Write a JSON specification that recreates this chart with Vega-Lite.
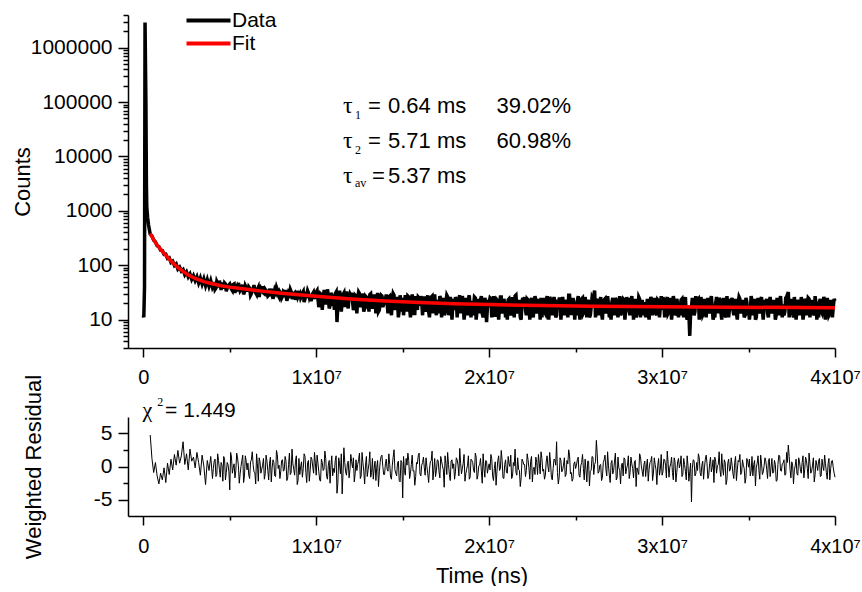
{
"$schema": "https://vega.github.io/schema/vega-lite/v6.json",
"padding": {"left": 11, "top": 10, "right": 0, "bottom": 0},
"background": "white",
"config": {
  "view": {"stroke": null},
  "font": "Liberation Sans",
  "axis": {"domainColor": "black", "domainWidth": 1.5, "tickColor": "black", "tickWidth": 1.5, "labelColor": "black", "labelFont": "Liberation Sans", "labelFontSize": 20, "titleFont": "Liberation Sans", "titleFontSize": 22, "titleFontWeight": "normal", "titleColor": "black", "grid": false, "labelOverlap": false, "labelFlush": false}
},
"datasets": {
"decay": [
{"t":0,"c":12},{"t":3e4,"c":11},{"t":7e4,"c":40},{"t":1e5,"c":2900000},{"t":1.5e5,"c":100000},{"t":1.8e5,"c":3000},{"t":2e5,"c":1200},{"t":2.5e5,"c":750},{"t":3e5,"c":560},{"t":3.5e5,"c":450},
{"t":4e5,"c":372},{"t":5e5,"c":345},{"t":6e5,"c":288},{"t":7e5,"c":270},{"t":8e5,"c":228},{"t":9e5,"c":220},{"t":1.0e6,"c":189},{"t":1.1e6,"c":186},{"t":1.2e6,"c":158},{"t":1.3e6,"c":160},
{"t":1.4e6,"c":133},{"t":1.5e6,"c":137},{"t":1.6e6,"c":112},{"t":1.7e6,"c":118},{"t":1.8e6,"c":99},{"t":1.9e6,"c":106},{"t":2.0e6,"c":85},{"t":2.1e6,"c":92},{"t":2.2e6,"c":78},{"t":2.3e6,"c":83},
{"t":2.4e6,"c":67},{"t":2.5e6,"c":75},{"t":2.6e6,"c":61},{"t":2.7e6,"c":69},{"t":2.8e6,"c":55},{"t":2.9e6,"c":64},{"t":3.0e6,"c":52},{"t":3.1e6,"c":61},{"t":3.2e6,"c":47},{"t":3.3e6,"c":58},
{"t":3.4e6,"c":45},{"t":3.5e6,"c":56},{"t":3.6e6,"c":42},{"t":3.7e6,"c":54},{"t":3.8e6,"c":41},{"t":3.9e6,"c":52},{"t":4.0e6,"c":39},
{"t":4.1e6,"c":49},{"t":4.2e6,"c":38},{"t":4.3e6,"c":46},{"t":4.4e6,"c":52},{"t":4.5e6,"c":35},{"t":4.6e6,"c":43},{"t":4.7e6,"c":47},{"t":4.8e6,"c":33},{"t":4.9e6,"c":41},{"t":5.0e6,"c":45},
{"t":5.1e6,"c":36},{"t":5.2e6,"c":44},{"t":5.3e6,"c":31},{"t":5.4e6,"c":40},{"t":5.5e6,"c":47},{"t":5.6e6,"c":34},{"t":5.7e6,"c":38},{"t":5.8e6,"c":29},{"t":5.9e6,"c":42},{"t":6.0e6,"c":37},
{"t":6.1e6,"c":40},{"t":6.2e6,"c":28},{"t":6.3e6,"c":35},{"t":6.4e6,"c":43},{"t":6.5e6,"c":31},{"t":6.6e6,"c":36},{"t":6.7e6,"c":26},{"t":6.8e6,"c":38},{"t":6.9e6,"c":41},{"t":7.0e6,"c":30},
{"t":7.1e6,"c":34},{"t":7.2e6,"c":27},{"t":7.3e6,"c":37},{"t":7.4e6,"c":30},{"t":7.5e6,"c":24},{"t":7.6e6,"c":35},{"t":7.7e6,"c":39},{"t":7.8e6,"c":28},{"t":7.9e6,"c":32},{"t":8.0e6,"c":25},
{"t":8.1e6,"c":33},{"t":8.2e6,"c":29},{"t":8.3e6,"c":22},{"t":8.4e6,"c":31},{"t":8.5e6,"c":36},{"t":8.6e6,"c":27},{"t":8.7e6,"c":30},{"t":8.8e6,"c":23},{"t":8.9e6,"c":34},{"t":9.0e6,"c":28},
{"t":9.1e6,"c":25},{"t":9.2e6,"c":31},{"t":9.3e6,"c":21},{"t":9.4e6,"c":29},{"t":9.5e6,"c":34},{"t":9.6e6,"c":26},{"t":9.7e6,"c":22},{"t":9.8e6,"c":30},{"t":9.9e6,"c":27},{"t":10.0e6,"c":32},
{"t":10.1e6,"c":24},{"t":10.2e6,"c":19},{"t":10.3e6,"c":29},{"t":10.4e6,"c":26},{"t":10.5e6,"c":33},{"t":10.6e6,"c":22},{"t":10.7e6,"c":27},{"t":10.8e6,"c":18},{"t":10.9e6,"c":28},{"t":11.0e6,"c":25},
{"t":11.1e6,"c":30},{"t":11.2e6,"c":9},{"t":11.3e6,"c":23},{"t":11.4e6,"c":27},{"t":11.5e6,"c":21},{"t":11.6e6,"c":31},{"t":11.7e6,"c":24},{"t":11.8e6,"c":19},{"t":11.9e6,"c":26},{"t":12.0e6,"c":28},
{"t":12.1e6,"c":22},{"t":12.2e6,"c":17},{"t":12.3e6,"c":27},{"t":12.4e6,"c":25},{"t":12.5e6,"c":30},{"t":12.6e6,"c":20},{"t":12.7e6,"c":24},{"t":12.8e6,"c":16},{"t":12.9e6,"c":26},{"t":13.0e6,"c":23},
{"t":13.1e6,"c":29},{"t":13.2e6,"c":21},{"t":13.3e6,"c":18},{"t":13.4e6,"c":25},{"t":13.5e6,"c":22},{"t":13.6e6,"c":14},{"t":13.7e6,"c":24},{"t":13.8e6,"c":27},{"t":13.9e6,"c":19},{"t":14.0e6,"c":23},
{"t":14.1e6,"c":20},{"t":14.2e6,"c":26},{"t":14.3e6,"c":17},{"t":14.4e6,"c":22},{"t":14.5e6,"c":28},{"t":14.6e6,"c":18},{"t":14.7e6,"c":23},{"t":14.8e6,"c":15},{"t":14.9e6,"c":21},{"t":15.0e6,"c":25},
{"t":15.1e6,"c":19},{"t":15.2e6,"c":24},{"t":15.3e6,"c":27},{"t":15.4e6,"c":16},{"t":15.5e6,"c":22},{"t":15.6e6,"c":20},{"t":15.7e6,"c":13},{"t":15.8e6,"c":23},{"t":15.9e6,"c":26},{"t":16.0e6,"c":18},
{"t":16.1e6,"c":21},{"t":16.2e6,"c":25},{"t":16.3e6,"c":17},{"t":16.4e6,"c":20},{"t":16.5e6,"c":14},{"t":16.6e6,"c":22},{"t":16.7e6,"c":27},{"t":16.8e6,"c":19},{"t":16.9e6,"c":16},{"t":17.0e6,"c":23},
{"t":17.1e6,"c":18},{"t":17.2e6,"c":24},{"t":17.3e6,"c":20},{"t":17.4e6,"c":12},{"t":17.5e6,"c":21},{"t":17.6e6,"c":26},{"t":17.7e6,"c":17},{"t":17.8e6,"c":22},{"t":17.9e6,"c":19},{"t":18.0e6,"c":15},
{"t":18.1e6,"c":23},{"t":18.2e6,"c":20},{"t":18.3e6,"c":28},{"t":18.4e6,"c":17},{"t":18.5e6,"c":21},{"t":18.6e6,"c":14},{"t":18.7e6,"c":19},{"t":18.8e6,"c":24},{"t":18.9e6,"c":16},{"t":19.0e6,"c":22},
{"t":19.1e6,"c":18},{"t":19.2e6,"c":25},{"t":19.3e6,"c":15},{"t":19.4e6,"c":20},{"t":19.5e6,"c":23},{"t":19.6e6,"c":13},{"t":19.7e6,"c":19},{"t":19.8e6,"c":22},{"t":19.9e6,"c":17},{"t":20.0e6,"c":21},
{"t":20.1e6,"c":24},{"t":20.2e6,"c":16},{"t":20.3e6,"c":19},{"t":20.4e6,"c":12},{"t":20.5e6,"c":22},{"t":20.6e6,"c":18},{"t":20.7e6,"c":26},{"t":20.8e6,"c":15},{"t":20.9e6,"c":20},{"t":21.0e6,"c":17},
{"t":21.1e6,"c":23},{"t":21.2e6,"c":19},{"t":21.3e6,"c":14},{"t":21.4e6,"c":21},{"t":21.5e6,"c":27},{"t":21.6e6,"c":16},{"t":21.7e6,"c":18},{"t":21.8e6,"c":11},{"t":21.9e6,"c":22},{"t":22.0e6,"c":20},
{"t":22.1e6,"c":15},{"t":22.2e6,"c":24},{"t":22.3e6,"c":18},{"t":22.4e6,"c":21},{"t":22.5e6,"c":13},{"t":22.6e6,"c":19},{"t":22.7e6,"c":23},{"t":22.8e6,"c":16},{"t":22.9e6,"c":20},{"t":23.0e6,"c":25},
{"t":23.1e6,"c":17},{"t":23.2e6,"c":14},{"t":23.3e6,"c":21},{"t":23.4e6,"c":19},{"t":23.5e6,"c":26},{"t":23.6e6,"c":15},{"t":23.7e6,"c":18},{"t":23.8e6,"c":22},{"t":23.9e6,"c":12},{"t":24.0e6,"c":20},
{"t":24.1e6,"c":24},{"t":24.2e6,"c":17},{"t":24.3e6,"c":19},{"t":24.4e6,"c":15},{"t":24.5e6,"c":21},{"t":24.6e6,"c":28},{"t":24.7e6,"c":16},{"t":24.8e6,"c":13},{"t":24.9e6,"c":20},{"t":25.0e6,"c":18},
{"t":25.1e6,"c":22},{"t":25.2e6,"c":16},{"t":25.3e6,"c":19},{"t":25.4e6,"c":25},{"t":25.5e6,"c":14},{"t":25.6e6,"c":18},{"t":25.7e6,"c":21},{"t":25.8e6,"c":11},{"t":25.9e6,"c":17},{"t":26.0e6,"c":23},
{"t":26.1e6,"c":34},{"t":26.2e6,"c":15},{"t":26.3e6,"c":22},{"t":26.4e6,"c":18},{"t":26.5e6,"c":13},{"t":26.6e6,"c":20},{"t":26.7e6,"c":24},{"t":26.8e6,"c":16},{"t":26.9e6,"c":19},{"t":27.0e6,"c":14},
{"t":27.1e6,"c":21},{"t":27.2e6,"c":17},{"t":27.3e6,"c":25},{"t":27.4e6,"c":15},{"t":27.5e6,"c":18},{"t":27.6e6,"c":12},{"t":27.7e6,"c":20},{"t":27.8e6,"c":23},{"t":27.9e6,"c":16},{"t":28.0e6,"c":19},
{"t":28.1e6,"c":14},{"t":28.2e6,"c":22},{"t":28.3e6,"c":18},{"t":28.4e6,"c":20},{"t":28.5e6,"c":11},{"t":28.6e6,"c":17},{"t":28.7e6,"c":24},{"t":28.8e6,"c":19},{"t":28.9e6,"c":15},{"t":29.0e6,"c":21},
{"t":29.1e6,"c":18},{"t":29.2e6,"c":13},{"t":29.3e6,"c":20},{"t":29.4e6,"c":23},{"t":29.5e6,"c":16},{"t":29.6e6,"c":19},{"t":29.7e6,"c":12},{"t":29.8e6,"c":22},{"t":29.9e6,"c":17},{"t":30.0e6,"c":15},
{"t":30.1e6,"c":21},{"t":30.2e6,"c":18},{"t":30.3e6,"c":26},{"t":30.4e6,"c":14},{"t":30.5e6,"c":19},{"t":30.6e6,"c":16},{"t":30.7e6,"c":22},{"t":30.8e6,"c":13},{"t":30.9e6,"c":20},{"t":31.0e6,"c":17},
{"t":31.1e6,"c":23},{"t":31.2e6,"c":15},{"t":31.3e6,"c":19},{"t":31.4e6,"c":12},{"t":31.5e6,"c":18},{"t":31.6e6,"c":5},{"t":31.7e6,"c":17},{"t":31.8e6,"c":21},{"t":31.9e6,"c":14},{"t":32.0e6,"c":20},
{"t":32.1e6,"c":24},{"t":32.2e6,"c":16},{"t":32.3e6,"c":18},{"t":32.4e6,"c":13},{"t":32.5e6,"c":21},{"t":32.6e6,"c":19},{"t":32.7e6,"c":15},{"t":32.8e6,"c":22},{"t":32.9e6,"c":17},{"t":33.0e6,"c":12},
{"t":33.1e6,"c":20},{"t":33.2e6,"c":18},{"t":33.3e6,"c":25},{"t":33.4e6,"c":14},{"t":33.5e6,"c":17},{"t":33.6e6,"c":21},{"t":33.7e6,"c":11},{"t":33.8e6,"c":19},{"t":33.9e6,"c":16},{"t":34.0e6,"c":22},
{"t":34.1e6,"c":15},{"t":34.2e6,"c":19},{"t":34.3e6,"c":13},{"t":34.4e6,"c":20},{"t":34.5e6,"c":24},{"t":34.6e6,"c":16},{"t":34.7e6,"c":18},{"t":34.8e6,"c":12},{"t":34.9e6,"c":21},{"t":35.0e6,"c":17},
{"t":35.1e6,"c":14},{"t":35.2e6,"c":22},{"t":35.3e6,"c":18},{"t":35.4e6,"c":10},{"t":35.5e6,"c":19},{"t":35.6e6,"c":16},{"t":35.7e6,"c":23},{"t":35.8e6,"c":15},{"t":35.9e6,"c":18},{"t":36.0e6,"c":20},
{"t":36.1e6,"c":13},{"t":36.2e6,"c":21},{"t":36.3e6,"c":17},{"t":36.4e6,"c":15},{"t":36.5e6,"c":20},{"t":36.6e6,"c":12},{"t":36.7e6,"c":18},{"t":36.8e6,"c":22},{"t":36.9e6,"c":16},{"t":37.0e6,"c":19},
{"t":37.1e6,"c":14},{"t":37.2e6,"c":26},{"t":37.3e6,"c":32},{"t":37.4e6,"c":17},{"t":37.5e6,"c":20},{"t":37.6e6,"c":11},{"t":37.7e6,"c":18},{"t":37.8e6,"c":15},{"t":37.9e6,"c":21},{"t":38.0e6,"c":16},
{"t":38.1e6,"c":19},{"t":38.2e6,"c":13},{"t":38.3e6,"c":22},{"t":38.4e6,"c":17},{"t":38.5e6,"c":24},{"t":38.6e6,"c":15},{"t":38.7e6,"c":18},{"t":38.8e6,"c":12},{"t":38.9e6,"c":20},{"t":39.0e6,"c":16},
{"t":39.1e6,"c":21},{"t":39.2e6,"c":14},{"t":39.3e6,"c":18},{"t":39.4e6,"c":23},{"t":39.5e6,"c":15},{"t":39.6e6,"c":19},{"t":39.7e6,"c":13},{"t":39.8e6,"c":20},{"t":39.9e6,"c":17},{"t":40.0e6,"c":22},
{"t":4.05e6,"c":42},{"t":4.15e6,"c":36},{"t":4.25e6,"c":50},{"t":4.35e6,"c":39},{"t":4.45e6,"c":44},{"t":4.55e6,"c":48},{"t":4.65e6,"c":37},{"t":4.75e6,"c":45},{"t":4.85e6,"c":38},{"t":4.95e6,"c":43},
{"t":5.05e6,"c":40},{"t":5.15e6,"c":34},{"t":5.25e6,"c":45},{"t":5.35e6,"c":37},{"t":5.45e6,"c":33},{"t":5.55e6,"c":41},{"t":5.65e6,"c":36},{"t":5.75e6,"c":44},{"t":5.85e6,"c":32},{"t":5.95e6,"c":39},
{"t":6.05e6,"c":33},{"t":6.15e6,"c":38},{"t":6.25e6,"c":30},{"t":6.35e6,"c":37},{"t":6.45e6,"c":34},{"t":6.55e6,"c":29},{"t":6.65e6,"c":39},{"t":6.75e6,"c":33},{"t":6.85e6,"c":36},{"t":6.95e6,"c":31},
{"t":7.05e6,"c":36},{"t":7.15e6,"c":31},{"t":7.25e6,"c":28},{"t":7.35e6,"c":33},{"t":7.45e6,"c":37},{"t":7.55e6,"c":29},{"t":7.65e6,"c":32},{"t":7.75e6,"c":35},{"t":7.85e6,"c":26},{"t":7.95e6,"c":30},
{"t":8.05e6,"c":27},{"t":8.15e6,"c":32},{"t":8.25e6,"c":35},{"t":8.35e6,"c":26},{"t":8.45e6,"c":29},{"t":8.55e6,"c":33},{"t":8.65e6,"c":24},{"t":8.75e6,"c":31},{"t":8.85e6,"c":28},{"t":8.95e6,"c":26},
{"t":9.05e6,"c":30},{"t":9.15e6,"c":27},{"t":9.25e6,"c":33},{"t":9.35e6,"c":24},{"t":9.45e6,"c":28},{"t":9.55e6,"c":31},{"t":9.65e6,"c":29},{"t":9.75e6,"c":25},{"t":9.85e6,"c":32},{"t":9.95e6,"c":24},
{"t":10.05e6,"c":34},{"t":10.15e6,"c":17},{"t":10.25e6,"c":30},{"t":10.35e6,"c":15},{"t":10.45e6,"c":33},{"t":10.55e6,"c":19},{"t":10.65e6,"c":36},{"t":10.75e6,"c":16},{"t":10.85e6,"c":31},{"t":10.95e6,"c":18},
{"t":11.05e6,"c":15},{"t":11.15e6,"c":32},{"t":11.25e6,"c":18},{"t":11.35e6,"c":34},{"t":11.45e6,"c":14},{"t":11.55e6,"c":29},{"t":11.65e6,"c":17},{"t":11.75e6,"c":33},{"t":11.85e6,"c":16},{"t":11.95e6,"c":30},
{"t":12.05e6,"c":31},{"t":12.15e6,"c":15},{"t":12.25e6,"c":28},{"t":12.35e6,"c":13},{"t":12.45e6,"c":32},{"t":12.55e6,"c":17},{"t":12.65e6,"c":30},{"t":12.75e6,"c":14},{"t":12.85e6,"c":27},{"t":12.95e6,"c":16},
{"t":13.05e6,"c":14},{"t":13.15e6,"c":30},{"t":13.25e6,"c":16},{"t":13.35e6,"c":29},{"t":13.45e6,"c":13},{"t":13.55e6,"c":31},{"t":13.65e6,"c":15},{"t":13.75e6,"c":28},{"t":13.85e6,"c":17},{"t":13.95e6,"c":26},
{"t":14.05e6,"c":29},{"t":14.15e6,"c":13},{"t":14.25e6,"c":27},{"t":14.35e6,"c":12},{"t":14.45e6,"c":30},{"t":14.55e6,"c":15},{"t":14.65e6,"c":26},{"t":14.75e6,"c":11},{"t":14.85e6,"c":28},{"t":14.95e6,"c":14},
{"t":15.05e6,"c":12},{"t":15.15e6,"c":28},{"t":15.25e6,"c":14},{"t":15.35e6,"c":26},{"t":15.45e6,"c":11},{"t":15.55e6,"c":29},{"t":15.65e6,"c":13},{"t":15.75e6,"c":27},{"t":15.85e6,"c":15},{"t":15.95e6,"c":25},
{"t":16.05e6,"c":27},{"t":16.15e6,"c":12},{"t":16.25e6,"c":25},{"t":16.35e6,"c":14},{"t":16.45e6,"c":28},{"t":16.55e6,"c":11},{"t":16.65e6,"c":26},{"t":16.75e6,"c":13},{"t":16.85e6,"c":29},{"t":16.95e6,"c":12},
{"t":17.05e6,"c":13},{"t":17.15e6,"c":27},{"t":17.25e6,"c":11},{"t":17.35e6,"c":25},{"t":17.45e6,"c":14},{"t":17.55e6,"c":28},{"t":17.65e6,"c":12},{"t":17.75e6,"c":26},{"t":17.85e6,"c":10},{"t":17.95e6,"c":24},
{"t":18.05e6,"c":26},{"t":18.15e6,"c":11},{"t":18.25e6,"c":24},{"t":18.35e6,"c":13},{"t":18.45e6,"c":27},{"t":18.55e6,"c":10},{"t":18.65e6,"c":25},{"t":18.75e6,"c":12},{"t":18.85e6,"c":28},{"t":18.95e6,"c":11},
{"t":19.05e6,"c":12},{"t":19.15e6,"c":26},{"t":19.25e6,"c":10},{"t":19.35e6,"c":24},{"t":19.45e6,"c":13},{"t":19.55e6,"c":27},{"t":19.65e6,"c":11},{"t":19.75e6,"c":25},{"t":19.85e6,"c":9},{"t":19.95e6,"c":23},
{"t":20.05e6,"c":25},{"t":20.15e6,"c":11},{"t":20.25e6,"c":27},{"t":20.35e6,"c":12},{"t":20.45e6,"c":23},{"t":20.55e6,"c":10},{"t":20.65e6,"c":26},{"t":20.75e6,"c":13},{"t":20.85e6,"c":24},{"t":20.95e6,"c":11},
{"t":21.05e6,"c":10},{"t":21.15e6,"c":24},{"t":21.25e6,"c":12},{"t":21.35e6,"c":26},{"t":21.45e6,"c":11},{"t":21.55e6,"c":28},{"t":21.65e6,"c":13},{"t":21.75e6,"c":23},{"t":21.85e6,"c":10},{"t":21.95e6,"c":25},
{"t":22.05e6,"c":26},{"t":22.15e6,"c":12},{"t":22.25e6,"c":23},{"t":22.35e6,"c":10},{"t":22.45e6,"c":25},{"t":22.55e6,"c":11},{"t":22.65e6,"c":27},{"t":22.75e6,"c":13},{"t":22.85e6,"c":24},{"t":22.95e6,"c":10},
{"t":23.05e6,"c":11},{"t":23.15e6,"c":25},{"t":23.25e6,"c":13},{"t":23.35e6,"c":27},{"t":23.45e6,"c":10},{"t":23.55e6,"c":24},{"t":23.65e6,"c":12},{"t":23.75e6,"c":26},{"t":23.85e6,"c":11},{"t":23.95e6,"c":23},
{"t":24.05e6,"c":24},{"t":24.15e6,"c":10},{"t":24.25e6,"c":26},{"t":24.35e6,"c":12},{"t":24.45e6,"c":23},{"t":24.55e6,"c":11},{"t":24.65e6,"c":28},{"t":24.75e6,"c":13},{"t":24.85e6,"c":25},{"t":24.95e6,"c":10},
{"t":25.05e6,"c":12},{"t":25.15e6,"c":27},{"t":25.25e6,"c":10},{"t":25.35e6,"c":24},{"t":25.45e6,"c":13},{"t":25.55e6,"c":26},{"t":25.65e6,"c":11},{"t":25.75e6,"c":23},{"t":25.85e6,"c":12},{"t":25.95e6,"c":25},
{"t":26.05e6,"c":28},{"t":26.15e6,"c":11},{"t":26.25e6,"c":24},{"t":26.35e6,"c":12},{"t":26.45e6,"c":26},{"t":26.55e6,"c":10},{"t":26.65e6,"c":23},{"t":26.75e6,"c":13},{"t":26.85e6,"c":27},{"t":26.95e6,"c":11},
{"t":27.05e6,"c":10},{"t":27.15e6,"c":25},{"t":27.25e6,"c":12},{"t":27.35e6,"c":23},{"t":27.45e6,"c":11},{"t":27.55e6,"c":27},{"t":27.65e6,"c":13},{"t":27.75e6,"c":24},{"t":27.85e6,"c":10},{"t":27.95e6,"c":26},
{"t":28.05e6,"c":25},{"t":28.15e6,"c":12},{"t":28.25e6,"c":27},{"t":28.35e6,"c":10},{"t":28.45e6,"c":24},{"t":28.55e6,"c":13},{"t":28.65e6,"c":26},{"t":28.75e6,"c":11},{"t":28.85e6,"c":23},{"t":28.95e6,"c":12},
{"t":29.05e6,"c":11},{"t":29.15e6,"c":24},{"t":29.25e6,"c":10},{"t":29.35e6,"c":26},{"t":29.45e6,"c":12},{"t":29.55e6,"c":25},{"t":29.65e6,"c":13},{"t":29.75e6,"c":23},{"t":29.85e6,"c":11},{"t":29.95e6,"c":27},
{"t":30.05e6,"c":26},{"t":30.15e6,"c":11},{"t":30.25e6,"c":23},{"t":30.35e6,"c":13},{"t":30.45e6,"c":25},{"t":30.55e6,"c":10},{"t":30.65e6,"c":27},{"t":30.75e6,"c":12},{"t":30.85e6,"c":24},{"t":30.95e6,"c":11},
{"t":31.05e6,"c":12},{"t":31.15e6,"c":24},{"t":31.25e6,"c":11},{"t":31.35e6,"c":26},{"t":31.45e6,"c":10},{"t":31.55e6,"c":13},{"t":31.65e6,"c":13},{"t":31.75e6,"c":25},{"t":31.85e6,"c":12},{"t":31.95e6,"c":27},
{"t":32.05e6,"c":23},{"t":32.15e6,"c":10},{"t":32.25e6,"c":26},{"t":32.35e6,"c":12},{"t":32.45e6,"c":24},{"t":32.55e6,"c":11},{"t":32.65e6,"c":25},{"t":32.75e6,"c":13},{"t":32.85e6,"c":27},{"t":32.95e6,"c":10},
{"t":33.05e6,"c":11},{"t":33.15e6,"c":26},{"t":33.25e6,"c":13},{"t":33.35e6,"c":23},{"t":33.45e6,"c":10},{"t":33.55e6,"c":25},{"t":33.65e6,"c":12},{"t":33.75e6,"c":27},{"t":33.85e6,"c":11},{"t":33.95e6,"c":24},
{"t":34.05e6,"c":25},{"t":34.15e6,"c":12},{"t":34.25e6,"c":24},{"t":34.35e6,"c":10},{"t":34.45e6,"c":26},{"t":34.55e6,"c":13},{"t":34.65e6,"c":23},{"t":34.75e6,"c":11},{"t":34.85e6,"c":25},{"t":34.95e6,"c":12},
{"t":35.05e6,"c":10},{"t":35.15e6,"c":27},{"t":35.25e6,"c":12},{"t":35.35e6,"c":24},{"t":35.45e6,"c":11},{"t":35.55e6,"c":25},{"t":35.65e6,"c":13},{"t":35.75e6,"c":26},{"t":35.85e6,"c":10},{"t":35.95e6,"c":23},
{"t":36.05e6,"c":24},{"t":36.15e6,"c":11},{"t":36.25e6,"c":26},{"t":36.35e6,"c":13},{"t":36.45e6,"c":23},{"t":36.55e6,"c":10},{"t":36.65e6,"c":25},{"t":36.75e6,"c":12},{"t":36.85e6,"c":27},{"t":36.95e6,"c":11},
{"t":37.05e6,"c":12},{"t":37.15e6,"c":25},{"t":37.25e6,"c":29},{"t":37.35e6,"c":11},{"t":37.45e6,"c":24},{"t":37.55e6,"c":13},{"t":37.65e6,"c":26},{"t":37.75e6,"c":10},{"t":37.85e6,"c":23},{"t":37.95e6,"c":12},
{"t":38.05e6,"c":26},{"t":38.15e6,"c":10},{"t":38.25e6,"c":24},{"t":38.35e6,"c":12},{"t":38.45e6,"c":25},{"t":38.55e6,"c":11},{"t":38.65e6,"c":23},{"t":38.75e6,"c":13},{"t":38.85e6,"c":27},{"t":38.95e6,"c":10},
{"t":39.05e6,"c":11},{"t":39.15e6,"c":24},{"t":39.25e6,"c":13},{"t":39.35e6,"c":26},{"t":39.45e6,"c":10},{"t":39.55e6,"c":25},{"t":39.65e6,"c":12},{"t":39.75e6,"c":23},{"t":39.85e6,"c":11},{"t":39.95e6,"c":24}
],
"fit": [
{"t":4e5,"c":380},{"t":5e5,"c":335},{"t":6e5,"c":295},{"t":7e5,"c":262},{"t":8e5,"c":236},{"t":9e5,"c":214},{"t":1.0e6,"c":196},{"t":1.2e6,"c":165},{"t":1.4e6,"c":140},{"t":1.6e6,"c":120},
{"t":1.8e6,"c":104},{"t":2.0e6,"c":91},{"t":2.3e6,"c":77},{"t":2.6e6,"c":66},{"t":3.0e6,"c":57},{"t":3.5e6,"c":50},{"t":4.0e6,"c":45.5},{"t":4.5e6,"c":42},{"t":5.0e6,"c":39.5},{"t":6.0e6,"c":36},
{"t":7.0e6,"c":33},{"t":8.0e6,"c":30.5},{"t":9.0e6,"c":28.5},{"t":10.0e6,"c":26.8},{"t":12.0e6,"c":24},{"t":14.0e6,"c":22},{"t":16.0e6,"c":20.6},{"t":18.0e6,"c":19.6},{"t":20.0e6,"c":18.9},{"t":23.0e6,"c":18.1},
{"t":26.0e6,"c":17.6},{"t":30.0e6,"c":17.2},{"t":34.0e6,"c":16.9},{"t":38.0e6,"c":16.6},{"t":40.0e6,"c":16.5}
],
"resid": [
{"t":4e5,"r":4.7},{"t":5e5,"r":1.2},{"t":6e5,"r":-0.9},{"t":7e5,"r":0.6},{"t":8e5,"r":-1.4},{"t":9e5,"r":-2.6},{"t":1.0e6,"r":-1.0},{"t":1.1e6,"r":-2.0},{"t":1.2e6,"r":-0.2},{"t":1.3e6,"r":-2.4},
{"t":1.4e6,"r":0.5},{"t":1.5e6,"r":-1.2},{"t":1.6e6,"r":1.1},{"t":1.7e6,"r":-0.5},{"t":1.8e6,"r":1.8},{"t":1.9e6,"r":0.2},{"t":2.0e6,"r":2.4},{"t":2.1e6,"r":0.5},{"t":2.2e6,"r":1.6},{"t":2.3e6,"r":3.7},
{"t":2.4e6,"r":0.3},{"t":2.5e6,"r":1.9},{"t":2.6e6,"r":-0.5},{"t":2.7e6,"r":2.6},{"t":2.8e6,"r":0.8},{"t":2.9e6,"r":1.4},{"t":3.0e6,"r":-0.2},{"t":3.1e6,"r":2.1},{"t":3.2e6,"r":0.6},{"t":3.3e6,"r":-1.3},
{"t":3.4e6,"r":1.7},{"t":3.5e6,"r":0.1},{"t":3.6e6,"r":-2.7},{"t":3.7e6,"r":0.9},{"t":3.8e6,"r":-0.6},{"t":3.9e6,"r":1.5},{"t":4.0e6,"r":-1.8},
{"t":4.1e6,"r":0.8},{"t":4.2e6,"r":-1.5},{"t":4.3e6,"r":1.9},{"t":4.4e6,"r":-0.4},{"t":4.5e6,"r":0.6},{"t":4.6e6,"r":-2.2},{"t":4.7e6,"r":1.1},{"t":4.8e6,"r":-0.9},{"t":4.9e6,"r":0.3},{"t":5.0e6,"r":-3.5},
{"t":5.1e6,"r":1.4},{"t":5.2e6,"r":-0.2},{"t":5.3e6,"r":-1.7},{"t":5.4e6,"r":2.0},{"t":5.5e6,"r":0.1},{"t":5.6e6,"r":-1.1},{"t":5.7e6,"r":0.9},{"t":5.8e6,"r":-2.4},{"t":5.9e6,"r":1.6},{"t":6.0e6,"r":-0.5},
{"t":6.1e6,"r":-1.3},{"t":6.2e6,"r":0.7},{"t":6.3e6,"r":2.2},{"t":6.4e6,"r":-0.8},{"t":6.5e6,"r":-2.6},{"t":6.6e6,"r":0.4},{"t":6.7e6,"r":1.3},{"t":6.8e6,"r":-1.0},{"t":6.9e6,"r":0.2},{"t":7.0e6,"r":-1.9},
{"t":7.1e6,"r":1.7},{"t":7.2e6,"r":-0.6},{"t":7.3e6,"r":0.5},{"t":7.4e6,"r":-2.3},{"t":7.5e6,"r":1.0},{"t":7.6e6,"r":-1.4},{"t":7.7e6,"r":2.4},{"t":7.8e6,"r":-0.3},{"t":7.9e6,"r":-1.8},{"t":8.0e6,"r":0.9},
{"t":8.1e6,"r":-0.7},{"t":8.2e6,"r":1.5},{"t":8.3e6,"r":-2.1},{"t":8.4e6,"r":0.3},{"t":8.5e6,"r":-1.2},{"t":8.6e6,"r":2.6},{"t":8.7e6,"r":-0.4},{"t":8.8e6,"r":0.8},{"t":8.9e6,"r":-2.7},{"t":9.0e6,"r":1.2},
{"t":9.1e6,"r":0.0},{"t":9.2e6,"r":-1.6},{"t":9.3e6,"r":1.9},{"t":9.4e6,"r":-0.9},{"t":9.5e6,"r":0.6},{"t":9.6e6,"r":-2.2},{"t":9.7e6,"r":1.4},{"t":9.8e6,"r":-0.1},{"t":9.9e6,"r":2.1},{"t":10.0e6,"r":-1.3},
{"t":10.1e6,"r":0.5},{"t":10.2e6,"r":-2.0},{"t":10.3e6,"r":1.1},{"t":10.4e6,"r":-0.6},{"t":10.5e6,"r":2.3},{"t":10.6e6,"r":-1.5},{"t":10.7e6,"r":0.2},{"t":10.8e6,"r":-2.5},{"t":10.9e6,"r":1.6},{"t":11.0e6,"r":-0.3},
{"t":11.1e6,"r":0.9},{"t":11.2e6,"r":-4.0},{"t":11.3e6,"r":1.3},{"t":11.4e6,"r":-1.1},{"t":11.5e6,"r":-4.1},{"t":11.6e6,"r":2.8},{"t":11.7e6,"r":-0.8},{"t":11.8e6,"r":0.4},{"t":11.9e6,"r":-1.7},{"t":12.0e6,"r":1.8},
{"t":12.1e6,"r":-0.2},{"t":12.2e6,"r":-2.3},{"t":12.3e6,"r":1.0},{"t":12.4e6,"r":0.3},{"t":12.5e6,"r":2.0},{"t":12.6e6,"r":-1.4},{"t":12.7e6,"r":0.6},{"t":12.8e6,"r":-2.6},{"t":12.9e6,"r":1.5},{"t":13.0e6,"r":-0.5},
{"t":13.1e6,"r":2.2},{"t":13.2e6,"r":-0.9},{"t":13.3e6,"r":-1.9},{"t":13.4e6,"r":0.8},{"t":13.5e6,"r":-0.1},{"t":13.6e6,"r":-3.0},{"t":13.7e6,"r":0.7},{"t":13.8e6,"r":1.7},{"t":13.9e6,"r":-1.2},{"t":14.0e6,"r":0.4},
{"t":14.1e6,"r":-0.4},{"t":14.2e6,"r":1.9},{"t":14.3e6,"r":-1.6},{"t":14.4e6,"r":0.2},{"t":14.5e6,"r":2.5},{"t":14.6e6,"r":-1.0},{"t":14.7e6,"r":0.5},{"t":14.8e6,"r":-2.1},{"t":14.9e6,"r":0.9},{"t":15.0e6,"r":-4.7},
{"t":15.1e6,"r":-0.6},{"t":15.2e6,"r":1.2},{"t":15.3e6,"r":2.0},{"t":15.4e6,"r":-1.8},{"t":15.5e6,"r":0.3},{"t":15.6e6,"r":-0.7},{"t":15.7e6,"r":-2.8},{"t":15.8e6,"r":0.6},{"t":15.9e6,"r":1.6},{"t":16.0e6,"r":-1.1},
{"t":16.1e6,"r":0.2},{"t":16.2e6,"r":1.4},{"t":16.3e6,"r":-1.3},{"t":16.4e6,"r":0.0},{"t":16.5e6,"r":-2.4},{"t":16.6e6,"r":0.7},{"t":16.7e6,"r":2.3},{"t":16.8e6,"r":-0.5},{"t":16.9e6,"r":-1.5},{"t":17.0e6,"r":1.0},
{"t":17.1e6,"r":-0.8},{"t":17.2e6,"r":1.5},{"t":17.3e6,"r":0.1},{"t":17.4e6,"r":-3.1},{"t":17.5e6,"r":0.4},{"t":17.6e6,"r":2.1},{"t":17.7e6,"r":-1.2},{"t":17.8e6,"r":0.8},{"t":17.9e6,"r":-0.3},{"t":18.0e6,"r":-1.9},
{"t":18.1e6,"r":1.3},{"t":18.2e6,"r":0.2},{"t":18.3e6,"r":2.7},{"t":18.4e6,"r":-1.1},{"t":18.5e6,"r":0.5},{"t":18.6e6,"r":-2.2},{"t":18.7e6,"r":-0.4},{"t":18.8e6,"r":1.6},{"t":18.9e6,"r":-1.6},{"t":19.0e6,"r":0.9},
{"t":19.1e6,"r":-0.6},{"t":19.2e6,"r":2.0},{"t":19.3e6,"r":-1.9},{"t":19.4e6,"r":0.1},{"t":19.5e6,"r":1.2},{"t":19.6e6,"r":-2.5},{"t":19.7e6,"r":-0.2},{"t":19.8e6,"r":0.9},{"t":19.9e6,"r":-1.0},{"t":20.0e6,"r":0.4},
{"t":20.1e6,"r":1.8},{"t":20.2e6,"r":-1.4},{"t":20.3e6,"r":-0.3},{"t":20.4e6,"r":-2.8},{"t":20.5e6,"r":0.9},{"t":20.6e6,"r":-0.6},{"t":20.7e6,"r":2.4},{"t":20.8e6,"r":-1.7},{"t":20.9e6,"r":0.3},{"t":21.0e6,"r":-0.9},
{"t":21.1e6,"r":1.5},{"t":21.2e6,"r":0.0},{"t":21.3e6,"r":-1.8},{"t":21.4e6,"r":0.6},{"t":21.5e6,"r":2.6},{"t":21.6e6,"r":-1.3},{"t":21.7e6,"r":-0.4},{"t":21.8e6,"r":-3.0},{"t":21.9e6,"r":1.1},{"t":22.0e6,"r":0.3},
{"t":22.1e6,"r":-1.5},{"t":22.2e6,"r":1.9},{"t":22.3e6,"r":-0.2},{"t":22.4e6,"r":0.8},{"t":22.5e6,"r":-2.3},{"t":22.6e6,"r":-0.1},{"t":22.7e6,"r":1.4},{"t":22.8e6,"r":-1.2},{"t":22.9e6,"r":0.5},{"t":23.0e6,"r":2.2},
{"t":23.1e6,"r":-0.7},{"t":23.2e6,"r":-1.9},{"t":23.3e6,"r":0.7},{"t":23.4e6,"r":0.0},{"t":23.5e6,"r":2.1},{"t":23.6e6,"r":-1.6},{"t":23.7e6,"r":-0.3},{"t":23.8e6,"r":1.0},{"t":23.9e6,"r":3.7},{"t":24.0e6,"r":-2.6},
{"t":24.1e6,"r":1.3},{"t":24.2e6,"r":-0.8},{"t":24.3e6,"r":0.2},{"t":24.4e6,"r":-1.5},{"t":24.5e6,"r":0.9},{"t":24.6e6,"r":2.5},{"t":24.7e6,"r":-1.1},{"t":24.8e6,"r":-2.2},{"t":24.9e6,"r":0.4},{"t":25.0e6,"r":-0.3},
{"t":25.1e6,"r":1.0},{"t":25.2e6,"r":-1.3},{"t":25.3e6,"r":0.1},{"t":25.4e6,"r":1.8},{"t":25.5e6,"r":-2.0},{"t":25.6e6,"r":-0.5},{"t":25.7e6,"r":0.8},{"t":25.8e6,"r":-2.9},{"t":25.9e6,"r":-0.6},{"t":26.0e6,"r":1.4},
{"t":26.1e6,"r":0.3},{"t":26.2e6,"r":3.9},{"t":26.3e6,"r":-1.0},{"t":26.4e6,"r":0.2},{"t":26.5e6,"r":-2.1},{"t":26.6e6,"r":0.6},{"t":26.7e6,"r":1.7},{"t":26.8e6,"r":-1.4},{"t":26.9e6,"r":0.1},{"t":27.0e6,"r":-2.4},
{"t":27.1e6,"r":0.9},{"t":27.2e6,"r":-0.6},{"t":27.3e6,"r":2.0},{"t":27.4e6,"r":-1.7},{"t":27.5e6,"r":-0.2},{"t":27.6e6,"r":-2.6},{"t":27.7e6,"r":0.5},{"t":27.8e6,"r":1.3},{"t":27.9e6,"r":-1.1},{"t":28.0e6,"r":0.2},
{"t":28.1e6,"r":-1.8},{"t":28.2e6,"r":1.4},{"t":28.3e6,"r":-0.3},{"t":28.4e6,"r":0.7},{"t":28.5e6,"r":-3.0},{"t":28.6e6,"r":-0.7},{"t":28.7e6,"r":1.9},{"t":28.8e6,"r":0.1},{"t":28.9e6,"r":-1.5},{"t":29.0e6,"r":0.8},
{"t":29.1e6,"r":0.0},{"t":29.2e6,"r":-2.2},{"t":29.3e6,"r":0.6},{"t":29.4e6,"r":1.5},{"t":29.5e6,"r":-1.0},{"t":29.6e6,"r":0.3},{"t":29.7e6,"r":-2.7},{"t":29.8e6,"r":1.2},{"t":29.9e6,"r":-0.4},{"t":30.0e6,"r":-1.3},
{"t":30.1e6,"r":1.1},{"t":30.2e6,"r":0.2},{"t":30.3e6,"r":2.3},{"t":30.4e6,"r":-1.6},{"t":30.5e6,"r":0.4},{"t":30.6e6,"r":-0.9},{"t":30.7e6,"r":1.3},{"t":30.8e6,"r":-2.3},{"t":30.9e6,"r":0.7},{"t":31.0e6,"r":-0.2},
{"t":31.1e6,"r":1.6},{"t":31.2e6,"r":-1.2},{"t":31.3e6,"r":0.3},{"t":31.4e6,"r":-2.0},{"t":31.5e6,"r":0.1},{"t":31.6e6,"r":-0.8},{"t":31.7e6,"r":-5.3},{"t":31.8e6,"r":1.0},{"t":31.9e6,"r":-1.4},{"t":32.0e6,"r":0.6},
{"t":32.1e6,"r":1.9},{"t":32.2e6,"r":-0.9},{"t":32.3e6,"r":0.2},{"t":32.4e6,"r":-1.9},{"t":32.5e6,"r":1.1},{"t":32.6e6,"r":0.4},{"t":32.7e6,"r":-1.3},{"t":32.8e6,"r":1.4},{"t":32.9e6,"r":-0.1},{"t":33.0e6,"r":-2.4},
{"t":33.1e6,"r":0.8},{"t":33.2e6,"r":0.1},{"t":33.3e6,"r":2.2},{"t":33.4e6,"r":-1.5},{"t":33.5e6,"r":-0.2},{"t":33.6e6,"r":1.0},{"t":33.7e6,"r":-2.7},{"t":33.8e6,"r":0.5},{"t":33.9e6,"r":-0.7},{"t":34.0e6,"r":1.3},
{"t":34.1e6,"r":-1.1},{"t":34.2e6,"r":0.6},{"t":34.3e6,"r":-2.1},{"t":34.4e6,"r":0.9},{"t":34.5e6,"r":1.8},{"t":34.6e6,"r":-0.9},{"t":34.7e6,"r":0.2},{"t":34.8e6,"r":-2.5},{"t":34.9e6,"r":1.2},{"t":35.0e6,"r":-0.1},
{"t":35.1e6,"r":-1.4},{"t":35.2e6,"r":1.5},{"t":35.3e6,"r":0.3},{"t":35.4e6,"r":-2.9},{"t":35.5e6,"r":0.5},{"t":35.6e6,"r":-0.6},{"t":35.7e6,"r":1.7},{"t":35.8e6,"r":-1.2},{"t":35.9e6,"r":0.1},{"t":36.0e6,"r":0.8},
{"t":36.1e6,"r":-1.8},{"t":36.2e6,"r":1.2},{"t":36.3e6,"r":-0.2},{"t":36.4e6,"r":-1.0},{"t":36.5e6,"r":0.9},{"t":36.6e6,"r":-2.2},{"t":36.7e6,"r":0.3},{"t":36.8e6,"r":1.6},{"t":36.9e6,"r":-0.7},{"t":37.0e6,"r":0.5},
{"t":37.1e6,"r":-1.3},{"t":37.2e6,"r":2.1},{"t":37.3e6,"r":3.2},{"t":37.4e6,"r":-0.4},{"t":37.5e6,"r":0.7},{"t":37.6e6,"r":-2.6},{"t":37.7e6,"r":0.1},{"t":37.8e6,"r":-1.1},{"t":37.9e6,"r":1.3},{"t":38.0e6,"r":-0.5},
{"t":38.1e6,"r":0.6},{"t":38.2e6,"r":-1.7},{"t":38.3e6,"r":1.4},{"t":38.4e6,"r":-0.3},{"t":38.5e6,"r":2.0},{"t":38.6e6,"r":-1.0},{"t":38.7e6,"r":0.2},{"t":38.8e6,"r":-2.3},{"t":38.9e6,"r":0.9},{"t":39.0e6,"r":-0.6},
{"t":39.1e6,"r":1.2},{"t":39.2e6,"r":-1.4},{"t":39.3e6,"r":0.0},{"t":39.4e6,"r":1.7},{"t":39.5e6,"r":-0.9},{"t":39.6e6,"r":0.4},{"t":39.7e6,"r":-2.0},{"t":39.8e6,"r":0.8},{"t":39.9e6,"r":-0.2},{"t":40.0e6,"r":-1.6},
{"t":4.05e6,"r":-0.3},{"t":4.15e6,"r":1.1},{"t":4.25e6,"r":-1.2},{"t":4.35e6,"r":0.9},{"t":4.45e6,"r":-1.6},{"t":4.55e6,"r":0.2},{"t":4.65e6,"r":1.5},{"t":4.75e6,"r":-2.0},{"t":4.85e6,"r":0.6},{"t":4.95e6,"r":-0.8},
{"t":5.05e6,"r":2.1},{"t":5.15e6,"r":-1.0},{"t":5.25e6,"r":0.4},{"t":5.35e6,"r":-0.6},{"t":5.45e6,"r":1.3},{"t":5.55e6,"r":-2.5},{"t":5.65e6,"r":0.0},{"t":5.75e6,"r":1.7},{"t":5.85e6,"r":-1.4},{"t":5.95e6,"r":0.8},
{"t":6.05e6,"r":0.5},{"t":6.15e6,"r":-1.8},{"t":6.25e6,"r":1.0},{"t":6.35e6,"r":0.3},{"t":6.45e6,"r":-0.9},{"t":6.55e6,"r":1.9},{"t":6.65e6,"r":-2.2},{"t":6.75e6,"r":0.7},{"t":6.85e6,"r":-0.4},{"t":6.95e6,"r":1.2},
{"t":7.05e6,"r":-1.1},{"t":7.15e6,"r":0.8},{"t":7.25e6,"r":-2.0},{"t":7.35e6,"r":1.4},{"t":7.45e6,"r":-0.2},{"t":7.55e6,"r":0.6},{"t":7.65e6,"r":-1.5},{"t":7.75e6,"r":1.8},{"t":7.85e6,"r":0.2},{"t":7.95e6,"r":-0.7},
{"t":8.05e6,"r":1.0},{"t":8.15e6,"r":-0.5},{"t":8.25e6,"r":0.9},{"t":8.35e6,"r":-1.7},{"t":8.45e6,"r":2.0},{"t":8.55e6,"r":-0.9},{"t":8.65e6,"r":0.4},{"t":8.75e6,"r":-1.3},{"t":8.85e6,"r":1.6},{"t":8.95e6,"r":-2.1},
{"t":9.05e6,"r":-1.2},{"t":9.15e6,"r":0.7},{"t":9.25e6,"r":-0.3},{"t":9.35e6,"r":1.5},{"t":9.45e6,"r":-2.4},{"t":9.55e6,"r":0.9},{"t":9.65e6,"r":-0.6},{"t":9.75e6,"r":1.1},{"t":9.85e6,"r":-1.0},{"t":9.95e6,"r":0.5},
{"t":10.05e6,"r":1.7},{"t":10.15e6,"r":-0.8},{"t":10.25e6,"r":-2.2},{"t":10.35e6,"r":0.6},{"t":10.45e6,"r":-0.4},{"t":10.55e6,"r":1.2},{"t":10.65e6,"r":-1.9},{"t":10.75e6,"r":0.9},{"t":10.85e6,"r":0.1},{"t":10.95e6,"r":-1.4},
{"t":11.05e6,"r":-0.9},{"t":11.15e6,"r":1.6},{"t":11.25e6,"r":-2.6},{"t":11.35e6,"r":0.4},{"t":11.45e6,"r":1.9},{"t":11.55e6,"r":-1.0},{"t":11.65e6,"r":0.6},{"t":11.75e6,"r":-1.3},{"t":11.85e6,"r":0.8},{"t":11.95e6,"r":-0.5},
{"t":12.05e6,"r":0.7},{"t":12.15e6,"r":1.3},{"t":12.25e6,"r":-1.1},{"t":12.35e6,"r":-0.6},{"t":12.45e6,"r":1.0},{"t":12.55e6,"r":-1.8},{"t":12.65e6,"r":2.1},{"t":12.75e6,"r":-0.7},{"t":12.85e6,"r":0.2},{"t":12.95e6,"r":-1.5},
{"t":13.05e6,"r":0.4},{"t":13.15e6,"r":-1.6},{"t":13.25e6,"r":1.2},{"t":13.35e6,"r":-0.3},{"t":13.45e6,"r":-2.1},{"t":13.55e6,"r":0.9},{"t":13.65e6,"r":-0.8},{"t":13.75e6,"r":1.5},{"t":13.85e6,"r":0.0},{"t":13.95e6,"r":-1.2},
{"t":14.05e6,"r":1.1},{"t":14.15e6,"r":-0.7},{"t":14.25e6,"r":0.3},{"t":14.35e6,"r":-1.9},{"t":14.45e6,"r":1.4},{"t":14.55e6,"r":-0.5},{"t":14.65e6,"r":-1.4},{"t":14.75e6,"r":0.8},{"t":14.85e6,"r":-2.3},{"t":14.95e6,"r":0.6},
{"t":15.05e6,"r":1.5},{"t":15.15e6,"r":-1.3},{"t":15.25e6,"r":0.2},{"t":15.35e6,"r":0.9},{"t":15.45e6,"r":-1.0},{"t":15.55e6,"r":1.7},{"t":15.65e6,"r":-0.6},{"t":15.75e6,"r":-1.5},{"t":15.85e6,"r":0.4},{"t":15.95e6,"r":2.0},
{"t":16.05e6,"r":-1.4},{"t":16.15e6,"r":0.6},{"t":16.25e6,"r":-0.2},{"t":16.35e6,"r":1.3},{"t":16.45e6,"r":-1.1},{"t":16.55e6,"r":-0.4},{"t":16.65e6,"r":0.9},{"t":16.75e6,"r":-2.0},{"t":16.85e6,"r":1.2},{"t":16.95e6,"r":-0.6},
{"t":17.05e6,"r":0.9},{"t":17.15e6,"r":-1.7},{"t":17.25e6,"r":0.8},{"t":17.35e6,"r":-0.5},{"t":17.45e6,"r":1.6},{"t":17.55e6,"r":-1.2},{"t":17.65e6,"r":0.3},{"t":17.75e6,"r":-2.1},{"t":17.85e6,"r":1.0},{"t":17.95e6,"r":0.4},
{"t":18.05e6,"r":-0.8},{"t":18.15e6,"r":1.0},{"t":18.25e6,"r":-1.4},{"t":18.35e6,"r":0.5},{"t":18.45e6,"r":-0.3},{"t":18.55e6,"r":1.8},{"t":18.65e6,"r":-1.1},{"t":18.75e6,"r":0.2},{"t":18.85e6,"r":-1.9},{"t":18.95e6,"r":1.1},
{"t":19.05e6,"r":0.6},{"t":19.15e6,"r":-0.9},{"t":19.25e6,"r":1.4},{"t":19.35e6,"r":-1.3},{"t":19.45e6,"r":0.2},{"t":19.55e6,"r":-0.7},{"t":19.65e6,"r":1.9},{"t":19.75e6,"r":-1.6},{"t":19.85e6,"r":0.8},{"t":19.95e6,"r":-0.2},
{"t":20.05e6,"r":-0.5},{"t":20.15e6,"r":1.2},{"t":20.25e6,"r":-2.1},{"t":20.35e6,"r":0.7},{"t":20.45e6,"r":-0.8},{"t":20.55e6,"r":1.6},{"t":20.65e6,"r":-0.3},{"t":20.75e6,"r":0.9},{"t":20.85e6,"r":-1.8},{"t":20.95e6,"r":1.0},
{"t":21.05e6,"r":-1.0},{"t":21.15e6,"r":0.4},{"t":21.25e6,"r":1.7},{"t":21.35e6,"r":-1.5},{"t":21.45e6,"r":0.1},{"t":21.55e6,"r":-0.9},{"t":21.65e6,"r":1.3},{"t":21.75e6,"r":-0.6},{"t":21.85e6,"r":-1.7},{"t":21.95e6,"r":0.8},
{"t":22.05e6,"r":0.3},{"t":22.15e6,"r":-0.6},{"t":22.25e6,"r":1.0},{"t":22.35e6,"r":-1.9},{"t":22.45e6,"r":1.5},{"t":22.55e6,"r":-0.4},{"t":22.65e6,"r":-1.2},{"t":22.75e6,"r":0.6},{"t":22.85e6,"r":1.8},{"t":22.95e6,"r":-1.1},
{"t":23.05e6,"r":1.2},{"t":23.15e6,"r":-0.4},{"t":23.25e6,"r":-1.3},{"t":23.35e6,"r":1.6},{"t":23.45e6,"r":-0.8},{"t":23.55e6,"r":0.5},{"t":23.65e6,"r":-2.0},{"t":23.75e6,"r":1.1},{"t":23.85e6,"r":0.2},{"t":23.95e6,"r":-0.9},
{"t":24.05e6,"r":-1.6},{"t":24.15e6,"r":0.9},{"t":24.25e6,"r":-0.5},{"t":24.35e6,"r":1.3},{"t":24.45e6,"r":-1.2},{"t":24.55e6,"r":0.4},{"t":24.65e6,"r":1.7},{"t":24.75e6,"r":-0.9},{"t":24.85e6,"r":-1.8},{"t":24.95e6,"r":0.7},
{"t":25.05e6,"r":0.2},{"t":25.15e6,"r":1.4},{"t":25.25e6,"r":-1.6},{"t":25.35e6,"r":0.6},{"t":25.45e6,"r":-0.3},{"t":25.55e6,"r":1.1},{"t":25.65e6,"r":-2.3},{"t":25.75e6,"r":0.8},{"t":25.85e6,"r":-0.7},{"t":25.95e6,"r":1.5},
{"t":26.05e6,"r":-1.2},{"t":26.15e6,"r":0.7},{"t":26.25e6,"r":1.9},{"t":26.35e6,"r":-0.8},{"t":26.45e6,"r":0.3},{"t":26.55e6,"r":-1.6},{"t":26.65e6,"r":1.0},{"t":26.75e6,"r":-0.4},{"t":26.85e6,"r":2.2},{"t":26.95e6,"r":-1.3},
{"t":27.05e6,"r":0.5},{"t":27.15e6,"r":-1.1},{"t":27.25e6,"r":0.8},{"t":27.35e6,"r":-2.0},{"t":27.45e6,"r":1.4},{"t":27.55e6,"r":-0.6},{"t":27.65e6,"r":0.2},{"t":27.75e6,"r":-1.4},{"t":27.85e6,"r":1.1},{"t":27.95e6,"r":-0.3},
{"t":28.05e6,"r":1.6},{"t":28.15e6,"r":-0.9},{"t":28.25e6,"r":0.4},{"t":28.35e6,"r":-1.7},{"t":28.45e6,"r":0.9},{"t":28.55e6,"r":-0.2},{"t":28.65e6,"r":-1.2},{"t":28.75e6,"r":1.5},{"t":28.85e6,"r":-0.7},{"t":28.95e6,"r":0.3},
{"t":29.05e6,"r":-1.5},{"t":29.15e6,"r":1.1},{"t":29.25e6,"r":-0.4},{"t":29.35e6,"r":0.8},{"t":29.45e6,"r":-2.1},{"t":29.55e6,"r":1.3},{"t":29.65e6,"r":-0.5},{"t":29.75e6,"r":0.2},{"t":29.85e6,"r":-1.3},{"t":29.95e6,"r":1.8},
{"t":30.05e6,"r":-0.8},{"t":30.15e6,"r":1.0},{"t":30.25e6,"r":-1.7},{"t":30.35e6,"r":0.5},{"t":30.45e6,"r":-0.1},{"t":30.55e6,"r":1.4},{"t":30.65e6,"r":-2.0},{"t":30.75e6,"r":0.7},{"t":30.85e6,"r":-0.9},{"t":30.95e6,"r":1.2},
{"t":31.05e6,"r":0.3},{"t":31.15e6,"r":-1.5},{"t":31.25e6,"r":1.2},{"t":31.35e6,"r":-0.7},{"t":31.45e6,"r":1.6},{"t":31.55e6,"r":-2.2},{"t":31.65e6,"r":0.5},{"t":31.75e6,"r":-0.3},{"t":31.85e6,"r":0.9},{"t":31.95e6,"r":-1.1},
{"t":32.05e6,"r":-0.6},{"t":32.15e6,"r":1.3},{"t":32.25e6,"r":-1.4},{"t":32.35e6,"r":0.8},{"t":32.45e6,"r":-0.2},{"t":32.55e6,"r":1.7},{"t":32.65e6,"r":-1.8},{"t":32.75e6,"r":0.4},{"t":32.85e6,"r":-0.8},{"t":32.95e6,"r":1.0},
{"t":33.05e6,"r":1.4},{"t":33.15e6,"r":-1.0},{"t":33.25e6,"r":0.3},{"t":33.35e6,"r":-0.6},{"t":33.45e6,"r":1.9},{"t":33.55e6,"r":-1.3},{"t":33.65e6,"r":0.6},{"t":33.75e6,"r":-2.0},{"t":33.85e6,"r":1.1},{"t":33.95e6,"r":-0.4},
{"t":34.05e6,"r":0.2},{"t":34.15e6,"r":-1.8},{"t":34.25e6,"r":1.5},{"t":34.35e6,"r":-0.5},{"t":34.45e6,"r":0.7},{"t":34.55e6,"r":-1.2},{"t":34.65e6,"r":1.0},{"t":34.75e6,"r":-0.3},{"t":34.85e6,"r":-1.6},{"t":34.95e6,"r":0.8},
{"t":35.05e6,"r":1.1},{"t":35.15e6,"r":-0.7},{"t":35.25e6,"r":-1.4},{"t":35.35e6,"r":0.9},{"t":35.45e6,"r":-0.2},{"t":35.55e6,"r":1.6},{"t":35.65e6,"r":-1.9},{"t":35.75e6,"r":0.5},{"t":35.85e6,"r":-0.8},{"t":35.95e6,"r":1.3},
{"t":36.05e6,"r":-0.4},{"t":36.15e6,"r":0.8},{"t":36.25e6,"r":-1.5},{"t":36.35e6,"r":1.2},{"t":36.45e6,"r":-0.9},{"t":36.55e6,"r":0.3},{"t":36.65e6,"r":-2.1},{"t":36.75e6,"r":1.7},{"t":36.85e6,"r":-0.6},{"t":36.95e6,"r":0.4},
{"t":37.05e6,"r":1.0},{"t":37.15e6,"r":-1.2},{"t":37.25e6,"r":0.6},{"t":37.35e6,"r":1.5},{"t":37.45e6,"r":-1.7},{"t":37.55e6,"r":0.2},{"t":37.65e6,"r":-0.5},{"t":37.75e6,"r":1.1},{"t":37.85e6,"r":-1.3},{"t":37.95e6,"r":0.7},
{"t":38.05e6,"r":-1.0},{"t":38.15e6,"r":1.6},{"t":38.25e6,"r":-0.4},{"t":38.35e6,"r":0.9},{"t":38.45e6,"r":-1.8},{"t":38.55e6,"r":0.5},{"t":38.65e6,"r":-0.7},{"t":38.75e6,"r":1.3},{"t":38.85e6,"r":-1.2},{"t":38.95e6,"r":0.2},
{"t":39.05e6,"r":0.8},{"t":39.15e6,"r":-1.5},{"t":39.25e6,"r":1.1},{"t":39.35e6,"r":-0.6},{"t":39.45e6,"r":0.4},{"t":39.55e6,"r":-1.9},{"t":39.65e6,"r":1.2},{"t":39.75e6,"r":-0.3},{"t":39.85e6,"r":0.9},{"t":39.95e6,"r":-1.0}
],
"tau": [{"t":11.55e6,"c":62800,"s":"τ"},{"t":11.55e6,"c":14240,"s":"τ"},{"t":11.55e6,"c":3230,"s":"τ"}],
"tausub": [{"t":12.24e6,"c":48700,"s":"1"},{"t":12.24e6,"c":11040,"s":"2"},{"t":12.24e6,"c":2727,"s":"av"}],
"tautext": [
{"t":12.99e6,"c":62800,"s":"="},{"t":14.15e6,"c":62800,"s":"0.64 ms"},{"t":20.42e6,"c":62800,"s":"39.02%"},
{"t":12.99e6,"c":14240,"s":"="},{"t":14.15e6,"c":14240,"s":"5.71 ms"},{"t":20.42e6,"c":14240,"s":"60.98%"},
{"t":13.23e6,"c":3230,"s":"="},{"t":14.15e6,"c":3230,"s":"5.37 ms"}
],
"chi": [{"t":-5e4,"r":7.34,"s":"χ"}],
"chisup": [{"t":8.1e5,"r":9.0,"s":"2"}],
"chival": [{"t":1.26e6,"r":7.34,"s":"= 1.449"}]
},
"bounds": "flush",
"spacing": 69,
"vconcat": [
{
 "width": 707, "height": 333,
 "resolve": {"axis": {"x": "independent", "y": "independent"}},
 "layer": [
  {"data": {"name": "decay"}, "mark": {"type": "line", "strokeWidth": 3.5},
   "encoding": {
    "x": {"field": "t", "type": "quantitative", "scale": {"domain": [-885000, 40000000], "nice": false, "zero": false},
          "axis": {"orient": "bottom", "values": [0, 10000000, 20000000, 30000000, 40000000], "labelExpr": "datum.value == 0 ? '0' : format(datum.value/1e7, 'd') + 'x10⁷'", "tickSize": 9, "labelPadding": 10, "title": null}},
    "y": {"field": "c", "type": "quantitative", "scale": {"type": "log", "domain": [3, 4000000], "nice": false},
          "axis": {"orient": "left", "values": [10, 100, 1000, 10000, 100000, 1000000], "format": "d", "tickSize": 10, "labelPadding": 6, "labelFontSize": 21, "title": "Counts", "titlePadding": -4}},
    "color": {"datum": "Data", "scale": {"domain": ["Data", "Fit"], "range": ["black", "red"]},
              "legend": {"orient": "none", "legendX": 70, "legendY": -5, "title": null, "symbolType": "M-4.4,0L4.4,0", "symbolSize": 100, "symbolStrokeWidth": 4, "labelFont": "Liberation Sans", "labelFontSize": 21, "labelColor": "black", "labelOffset": 13, "rowPadding": 1, "padding": 0}}
   }},
  {"data": {"name": "fit"}, "mark": {"type": "line", "strokeWidth": 3.5},
   "encoding": {
    "x": {"field": "t", "type": "quantitative", "scale": {"domain": [-885000, 40000000], "nice": false, "zero": false},
          "axis": {"orient": "bottom", "values": [5000000, 15000000, 25000000, 35000000], "labels": false, "domain": false, "tickSize": 4, "title": null}},
    "y": {"field": "c", "type": "quantitative", "scale": {"type": "log", "domain": [3, 4000000], "nice": false},
          "axis": {"orient": "left", "values": [3,4,5,6,7,8,9,20,30,40,50,60,70,80,90,200,300,400,500,600,700,800,900,2000,3000,4000,5000,6000,7000,8000,9000,20000,30000,40000,50000,60000,70000,80000,90000,200000,300000,400000,500000,600000,700000,800000,900000,2000000,3000000,4000000], "labels": false, "domain": false, "tickSize": 5, "title": null}},
    "color": {"datum": "Fit"}
   }},
  {"data": {"name": "tau"}, "mark": {"type": "text", "font": "Liberation Serif", "fontSize": 24, "align": "left", "baseline": "alphabetic", "color": "black"},
   "encoding": {
    "x": {"field": "t", "type": "quantitative", "scale": {"domain": [-885000, 40000000], "nice": false, "zero": false}, "axis": null},
    "y": {"field": "c", "type": "quantitative", "scale": {"type": "log", "domain": [3, 4000000], "nice": false}, "axis": null},
    "text": {"field": "s"}
   }},
  {"data": {"name": "tausub"}, "mark": {"type": "text", "font": "Liberation Serif", "fontSize": 12, "align": "left", "baseline": "alphabetic", "color": "black"},
   "encoding": {
    "x": {"field": "t", "type": "quantitative", "scale": {"domain": [-885000, 40000000], "nice": false, "zero": false}, "axis": null},
    "y": {"field": "c", "type": "quantitative", "scale": {"type": "log", "domain": [3, 4000000], "nice": false}, "axis": null},
    "text": {"field": "s"}
   }},
  {"data": {"name": "tautext"}, "mark": {"type": "text", "font": "Liberation Sans", "fontSize": 22, "align": "left", "baseline": "alphabetic", "color": "black"},
   "encoding": {
    "x": {"field": "t", "type": "quantitative", "scale": {"domain": [-885000, 40000000], "nice": false, "zero": false}, "axis": null},
    "y": {"field": "c", "type": "quantitative", "scale": {"type": "log", "domain": [3, 4000000], "nice": false}, "axis": null},
    "text": {"field": "s"}
   }}
 ]
},
{
 "width": 707, "height": 99,
 "resolve": {"axis": {"x": "independent", "y": "independent"}},
 "layer": [
  {"data": {"name": "resid"}, "mark": {"type": "line", "strokeWidth": 1, "color": "black"},
   "encoding": {
    "x": {"field": "t", "type": "quantitative", "scale": {"domain": [-885000, 40000000], "nice": false, "zero": false},
          "axis": {"orient": "bottom", "values": [0, 10000000, 20000000, 30000000, 40000000], "labelExpr": "datum.value == 0 ? '0' : format(datum.value/1e7, 'd') + 'x10⁷'", "tickSize": 9, "labelPadding": 11, "title": "Time (ns)", "titlePadding": 9}},
    "y": {"field": "r", "type": "quantitative", "scale": {"domain": [-7.4, 7.4], "nice": false, "zero": false},
          "axis": {"orient": "left", "values": [-5, 0, 5], "labelExpr": "'' + datum.value", "tickSize": 10, "labelPadding": 6, "labelFontSize": 21, "title": "Weighted Residual", "titlePadding": 48}}
   }},
  {"data": {"name": "chi"}, "mark": {"type": "text", "font": "Liberation Serif", "fontSize": 22, "align": "left", "baseline": "alphabetic", "color": "black"},
   "encoding": {
    "x": {"field": "t", "type": "quantitative", "scale": {"domain": [-885000, 40000000], "nice": false, "zero": false},
          "axis": {"orient": "bottom", "values": [5000000, 15000000, 25000000, 35000000], "labels": false, "domain": false, "tickSize": 4, "title": null}},
    "y": {"field": "r", "type": "quantitative", "scale": {"domain": [-7.4, 7.4], "nice": false, "zero": false},
          "axis": {"orient": "left", "values": [-2.5, 2.5], "labels": false, "domain": false, "tickSize": 5, "title": null}},
    "text": {"field": "s"}
   }},
  {"data": {"name": "chisup"}, "mark": {"type": "text", "font": "Liberation Serif", "fontSize": 12, "align": "left", "baseline": "alphabetic", "color": "black"},
   "encoding": {
    "x": {"field": "t", "type": "quantitative", "scale": {"domain": [-885000, 40000000], "nice": false, "zero": false}, "axis": null},
    "y": {"field": "r", "type": "quantitative", "scale": {"domain": [-7.4, 7.4], "nice": false, "zero": false}, "axis": null},
    "text": {"field": "s"}
   }},
  {"data": {"name": "chival"}, "mark": {"type": "text", "font": "Liberation Sans", "fontSize": 21, "align": "left", "baseline": "alphabetic", "color": "black"},
   "encoding": {
    "x": {"field": "t", "type": "quantitative", "scale": {"domain": [-885000, 40000000], "nice": false, "zero": false}, "axis": null},
    "y": {"field": "r", "type": "quantitative", "scale": {"domain": [-7.4, 7.4], "nice": false, "zero": false}, "axis": null},
    "text": {"field": "s"}
   }}
 ]
}
]
}
